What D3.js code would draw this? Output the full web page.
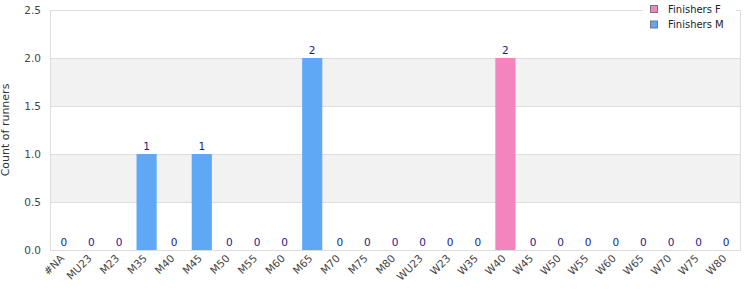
<!DOCTYPE html>
<html>
<head>
<meta charset="utf-8">
<script src="https://cdn.jsdelivr.net/npm/d3@7"></script>
<style>
  body { margin: 0; background: #fff; }
  svg { font-family: "DejaVu Sans", sans-serif; }
</style>
</head>
<body>
<div class="canvas"></div>
<script>
const categories = ['#NA', 'MU23', 'M23', 'M35', 'M40', 'M45', 'M50', 'M55', 'M60', 'M65', 'M70', 'M75', 'M80',
  'WU23', 'W23', 'W35', 'W40', 'W45', 'W50', 'W55', 'W60', 'W65', 'W70', 'W75', 'W80'];
// null where the series has no entry for that category
const finishersM = [0, 0, 0, 1, 0, 1, 0, 0, 0, 2, 0, 0, 0, null, null, null, null, null, null, null, null, null, null, null, null];
const finishersF = [null, null, null, null, null, null, null, null, null, null, null, null, null, 0, 0, 0, 2, 0, 0, 0, 0, 0, 0, 0, 0];
const yTicks = [0, 0.5, 1, 1.5, 2, 2.5];
const seriesNames = ['Finishers F', 'Finishers M'];
const seriesColors = ['#f384bd', '#5fa8f5'];

const dims = { width: 750, height: 300 };
const margin = { top: 10, right: 10, bottom: 50, left: 50 };
const w = dims.width - margin.left - margin.right;
const h = dims.height - margin.top - margin.bottom;

const svg = d3.select('.canvas')
  .append('svg')
  .attr('width', dims.width)
  .attr('height', dims.height);

const g = svg.append('g')
  .attr('transform', `translate(${margin.left}, ${margin.top})`);

const x = d3.scaleBand().domain(categories).range([0, w]).paddingInner(0.27).paddingOuter(0.135);
const y = d3.scaleLinear().domain([0, 2.5]).range([h, 0]);
const color = d3.scaleOrdinal().domain(seriesNames).range(seriesColors);

// alternating bands
g.selectAll('rect.band')
  .data(d3.pairs(yTicks).filter((d, i) => i % 2 === 1))
  .enter().append('rect')
    .attr('class', 'band')
    .attr('x', 0)
    .attr('width', w)
    .attr('y', d => y(d[1]))
    .attr('height', d => y(d[0]) - y(d[1]))
    .attr('fill', '#f2f2f2');

// grid lines
g.selectAll('line.grid')
  .data(yTicks.slice(1, -1))
  .enter().append('line')
    .attr('class', 'grid')
    .attr('x1', 0).attr('x2', w)
    .attr('y1', d => Math.round(y(d)) + 0.5)
    .attr('y2', d => Math.round(y(d)) + 0.5)
    .attr('stroke', '#dddddd');

// frame
g.append('rect')
  .attr('x', 0.5).attr('y', 0.5)
  .attr('width', w).attr('height', h)
  .attr('fill', 'none')
  .attr('stroke', '#dddddd');

// bars
const rows = categories.map((c, i) => {
  const m = finishersM[i], f = finishersF[i];
  return m !== null ? { cat: c, name: 'Finishers M', value: m } : { cat: c, name: 'Finishers F', value: f };
});

g.selectAll('rect.bar')
  .data(rows)
  .enter().append('rect')
    .attr('class', 'bar')
    .attr('x', d => x(d.cat))
    .attr('width', x.bandwidth())
    .attr('y', d => y(d.value))
    .attr('height', d => h - y(d.value))
    .attr('fill', d => color(d.name));

g.selectAll('text.value')
  .data(rows)
  .enter().append('text')
    .attr('class', 'value')
    .attr('x', d => x(d.cat) + x.bandwidth() / 2)
    .attr('y', d => y(d.value) - 4)
    .attr('text-anchor', 'middle')
    .attr('font-size', 10.5)
    .attr('fill', '#1a1a8c')
    .text(d => d.value);

// y axis
const yAxis = g.append('g')
  .call(d3.axisLeft(y).tickValues(yTicks).tickFormat(d3.format('.1f')).tickSize(0).tickPadding(9));
yAxis.select('.domain').remove();
yAxis.selectAll('text').attr('font-size', 10.5).attr('fill', '#444').attr('font-family', 'DejaVu Sans');

// x axis labels, rotated
const xLabels = g.append('g').attr('class', 'x-labels');
xLabels.selectAll('text')
  .data(categories)
  .enter().append('text')
    .attr('text-anchor', 'end')
    .attr('font-size', 10.5)
    .attr('fill', '#444')
    .attr('transform', d => `translate(${x(d) + x.bandwidth() / 2 + 1}, ${h + 9}) rotate(-45)`)
    .text(d => d);

// y title
svg.append('text')
  .attr('transform', `translate(9, ${margin.top + h / 2}) rotate(-90)`)
  .attr('text-anchor', 'middle')
  .attr('font-size', 11)
  .attr('fill', '#333')
  .text('Count of runners');

// legend
const legend = svg.append('g').attr('transform', 'translate(643, 0)');
legend.append('rect')
  .attr('x', 0).attr('y', 0).attr('width', 93).attr('height', 32)
  .attr('fill', '#fff');
const items = legend.selectAll('g.item')
  .data(seriesNames)
  .enter().append('g')
    .attr('class', 'item')
    .attr('transform', (d, i) => `translate(0, ${i * 15.5})`);
items.append('rect')
  .attr('x', 7.5).attr('y', 5.5).attr('width', 7).attr('height', 7)
  .attr('fill', d => color(d))
  .attr('stroke', '#777');
items.append('text')
  .attr('x', 25).attr('y', 12.5)
  .attr('font-size', 10)
  .attr('fill', '#222')
  .text(d => d);
</script>
</body>
</html>
